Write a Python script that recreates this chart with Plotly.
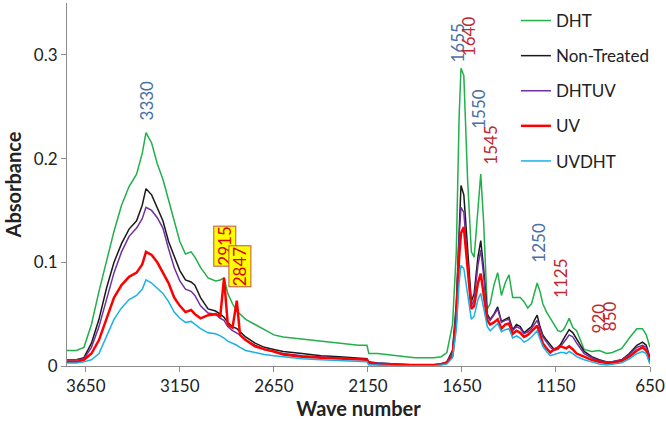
import plotly.graph_objects as go

# wave numbers (cm-1), shared by all spectra
wavenumber = [
    3750, 3700, 3660, 3620, 3580, 3540, 3500, 3460, 3420, 3380, 3350, 3330, 3300, 3270,
    3240, 3210, 3180, 3150, 3120, 3090, 3070, 3040, 3000, 2960, 2935, 2915, 2895, 2870,
    2847, 2830, 2800, 2750, 2700, 2650, 2600, 2500, 2400, 2300, 2200, 2155, 2145, 2100,
    2000, 1900, 1800, 1760, 1730, 1700, 1680, 1665, 1655, 1640, 1620, 1600, 1585, 1565,
    1550, 1535, 1515, 1500, 1480, 1460, 1440, 1420, 1400, 1380, 1360, 1340, 1320, 1300,
    1280, 1265, 1250, 1235, 1220, 1200, 1180, 1160, 1140, 1125, 1110, 1095, 1080, 1060,
    1040, 1000, 960, 920, 880, 850, 800, 760, 720, 690, 670, 650,
]

dht = [
    0.015, 0.015, 0.018, 0.040, 0.072, 0.100, 0.130, 0.155, 0.173, 0.185, 0.205, 0.225, 0.215, 0.195,
    0.180, 0.160, 0.140, 0.120, 0.108, 0.110, 0.105, 0.095, 0.085, 0.082, 0.083, 0.085, 0.070, 0.060,
    0.053, 0.050, 0.045, 0.040, 0.035, 0.030, 0.028, 0.026, 0.024, 0.022, 0.020, 0.020, 0.012, 0.012,
    0.010, 0.008, 0.008, 0.009, 0.013, 0.040, 0.110, 0.240, 0.287, 0.280, 0.180, 0.110, 0.105, 0.150,
    0.185, 0.140, 0.055, 0.060, 0.078, 0.090, 0.068, 0.080, 0.088, 0.066, 0.066, 0.066, 0.062, 0.056,
    0.060, 0.070, 0.080, 0.072, 0.060, 0.052, 0.046, 0.039, 0.034, 0.033, 0.035, 0.040, 0.046, 0.037,
    0.034, 0.016, 0.014, 0.015, 0.012, 0.013, 0.017, 0.027, 0.036, 0.036, 0.030, 0.018,
]

non_treated = [
    0.006, 0.006, 0.008, 0.022, 0.045, 0.075, 0.100, 0.118, 0.132, 0.140, 0.155, 0.171, 0.165, 0.152,
    0.140, 0.120, 0.105, 0.092, 0.083, 0.081, 0.078, 0.066, 0.055, 0.053, 0.050, 0.047, 0.042, 0.038,
    0.036, 0.033, 0.028, 0.022, 0.018, 0.016, 0.014, 0.012, 0.010, 0.009, 0.008, 0.007, 0.004, 0.003,
    0.002, 0.001, 0.001, 0.002, 0.004, 0.015, 0.060, 0.140, 0.174, 0.165, 0.110, 0.062, 0.070, 0.105,
    0.121, 0.095, 0.050, 0.045, 0.050, 0.057, 0.043, 0.045, 0.047, 0.035, 0.040, 0.038, 0.032, 0.035,
    0.038, 0.044, 0.049, 0.038, 0.030, 0.025, 0.020, 0.016, 0.018, 0.021, 0.026, 0.030, 0.035, 0.032,
    0.026, 0.014, 0.009, 0.006, 0.004, 0.004, 0.006, 0.012, 0.020, 0.023, 0.020, 0.008,
]

dhtuv = [
    0.006, 0.006, 0.007, 0.018, 0.038, 0.065, 0.090, 0.110, 0.125, 0.133, 0.142, 0.153, 0.150, 0.143,
    0.133, 0.113, 0.095, 0.082, 0.074, 0.072, 0.068, 0.058, 0.051, 0.050, 0.046, 0.044, 0.038, 0.034,
    0.032, 0.030, 0.025, 0.020, 0.016, 0.014, 0.012, 0.010, 0.009, 0.008, 0.007, 0.006, 0.003, 0.003,
    0.002, 0.001, 0.001, 0.002, 0.004, 0.013, 0.055, 0.125, 0.153, 0.148, 0.100, 0.058, 0.064, 0.097,
    0.112, 0.088, 0.048, 0.044, 0.049, 0.055, 0.042, 0.044, 0.045, 0.034, 0.038, 0.036, 0.031, 0.033,
    0.036, 0.040, 0.044, 0.036, 0.028, 0.023, 0.018, 0.015, 0.016, 0.019, 0.022, 0.026, 0.030, 0.028,
    0.022, 0.012, 0.008, 0.005, 0.004, 0.004, 0.006, 0.011, 0.018, 0.020, 0.018, 0.007,
]

uv = [
    0.004, 0.004, 0.006, 0.012, 0.025, 0.045, 0.066, 0.078, 0.086, 0.090, 0.098, 0.110, 0.107, 0.100,
    0.090, 0.080, 0.066, 0.058, 0.052, 0.054, 0.050, 0.046, 0.049, 0.050, 0.048, 0.085, 0.040, 0.037,
    0.063, 0.030, 0.025, 0.019, 0.016, 0.014, 0.011, 0.009, 0.008, 0.007, 0.006, 0.006, 0.003, 0.002,
    0.001, 0.001, 0.001, 0.002, 0.003, 0.010, 0.045, 0.105, 0.128, 0.134, 0.095, 0.055, 0.058, 0.080,
    0.089, 0.070, 0.044, 0.040, 0.042, 0.045, 0.036, 0.040, 0.041, 0.031, 0.034, 0.032, 0.028, 0.030,
    0.033, 0.036, 0.039, 0.030, 0.022, 0.017, 0.013, 0.016, 0.018, 0.019, 0.018, 0.017, 0.019, 0.016,
    0.012, 0.009, 0.006, 0.004, 0.003, 0.003, 0.005, 0.009, 0.015, 0.018, 0.015, 0.004,
]

uvdht = [
    0.003, 0.003, 0.004, 0.006, 0.012, 0.028, 0.045, 0.056, 0.064, 0.068, 0.074, 0.083, 0.080, 0.075,
    0.070, 0.062, 0.052, 0.046, 0.042, 0.043, 0.040, 0.036, 0.032, 0.031, 0.029, 0.027, 0.024, 0.022,
    0.020, 0.018, 0.015, 0.013, 0.011, 0.010, 0.009, 0.007, 0.006, 0.005, 0.004, 0.004, 0.001, 0.001,
    0.000, 0.000, 0.000, 0.001, 0.002, 0.008, 0.035, 0.080, 0.097, 0.094, 0.068, 0.045, 0.048, 0.064,
    0.070, 0.055, 0.038, 0.034, 0.038, 0.041, 0.033, 0.035, 0.036, 0.027, 0.029, 0.027, 0.023, 0.025,
    0.028, 0.031, 0.034, 0.026, 0.019, 0.014, 0.010, 0.011, 0.012, 0.013, 0.013, 0.012, 0.014, 0.012,
    0.009, 0.006, 0.004, 0.002, 0.001, 0.002, 0.003, 0.007, 0.012, 0.014, 0.012, 0.002,
]

x_ticks = [3650, 3150, 2650, 2150, 1650, 1150, 650]

FONT = "Lato, Calibri, sans-serif"
BLUE_LABEL = "#4a6fa5"
RED_LABEL = "#c0282d"

series = [
    ("DHT", dht, "#22b04b", 1.5),
    ("Non-Treated", non_treated, "#1a1a1a", 1.5),
    ("DHTUV", dhtuv, "#7030a0", 1.5),
    ("UV", uv, "#ff0000", 2.5),
    ("UVDHT", uvdht, "#1ab0e8", 1.5),
]

fig = go.Figure()
for name, values, color, width in series:
    fig.add_trace(
        go.Scatter(
            x=wavenumber,
            y=values,
            name=name,
            mode="lines",
            legendgroup=name,
            line={"color": color, "width": width},
        )
    )

# peak labels: (text, x, y, colour)
peak_labels = [
    ("3330", 3330, 0.256, BLUE_LABEL),
    ("1655", 1676, 0.311, BLUE_LABEL),
    ("1640", 1618, 0.318, RED_LABEL),
    ("1550", 1559, 0.248, BLUE_LABEL),
    ("1545", 1495, 0.2125, RED_LABEL),
    ("1250", 1245, 0.119, BLUE_LABEL),
    ("1125", 1123, 0.084, RED_LABEL),
    ("920", 926, 0.046, RED_LABEL),
    ("850", 868, 0.048, RED_LABEL),
]
for text, x, y, color in peak_labels:
    fig.add_annotation(
        x=x, y=y, text=text, showarrow=False, textangle=-90,
        font={"size": 17, "color": color, "family": FONT},
    )

for text, x, y in [("2915", 2910, 0.116), ("2847", 2831, 0.096)]:
    fig.add_annotation(
        x=x, y=y, text=text, showarrow=False, textangle=-90,
        font={"size": 17, "color": "#e00000", "family": FONT},
        bgcolor="#ffff00", bordercolor="#c0504d", borderwidth=1, borderpad=0,
    )

fig.update_layout(
    width=666,
    height=422,
    paper_bgcolor="white",
    plot_bgcolor="white",
    font={"family": FONT, "size": 17, "color": "#222222"},
    margin={"l": 67, "r": 16, "t": 3, "b": 56},
    showlegend=True,
    legend={
        "x": 0.77, "y": 1.0, "xanchor": "left", "yanchor": "top",
        "bgcolor": "rgba(0,0,0,0)", "traceorder": "grouped",
        "tracegroupgap": 10, "font": {"size": 17},
    },
)
fig.update_xaxes(
    range=[3750, 650],
    tickvals=x_ticks,
    showgrid=False,
    zeroline=False,
    showline=True,
    linecolor="#8c8c8c",
    ticks="outside",
    ticklen=5,
    tickcolor="#8c8c8c",
    automargin=False,
    title={"text": "<b>Wave number</b>", "standoff": 0},
)
fig.update_yaxes(
    range=[0, 0.35],
    tickvals=[0, 0.1, 0.2, 0.3],
    ticktext=["0", "0.1", "0.2", "0.3"],
    showgrid=False,
    zeroline=False,
    showline=True,
    linecolor="#8c8c8c",
    ticks="outside",
    ticklen=5,
    tickcolor="#8c8c8c",
    automargin=False,
    title={"text": "<b>Absorbance</b>", "standoff": 6},
)

# the page body has a default 8px margin; drop it so the figure fills the window
fig.write_html(
    "out.html",
    config={"displayModeBar": False},
    post_script="document.body.style.margin = '0';",
)
